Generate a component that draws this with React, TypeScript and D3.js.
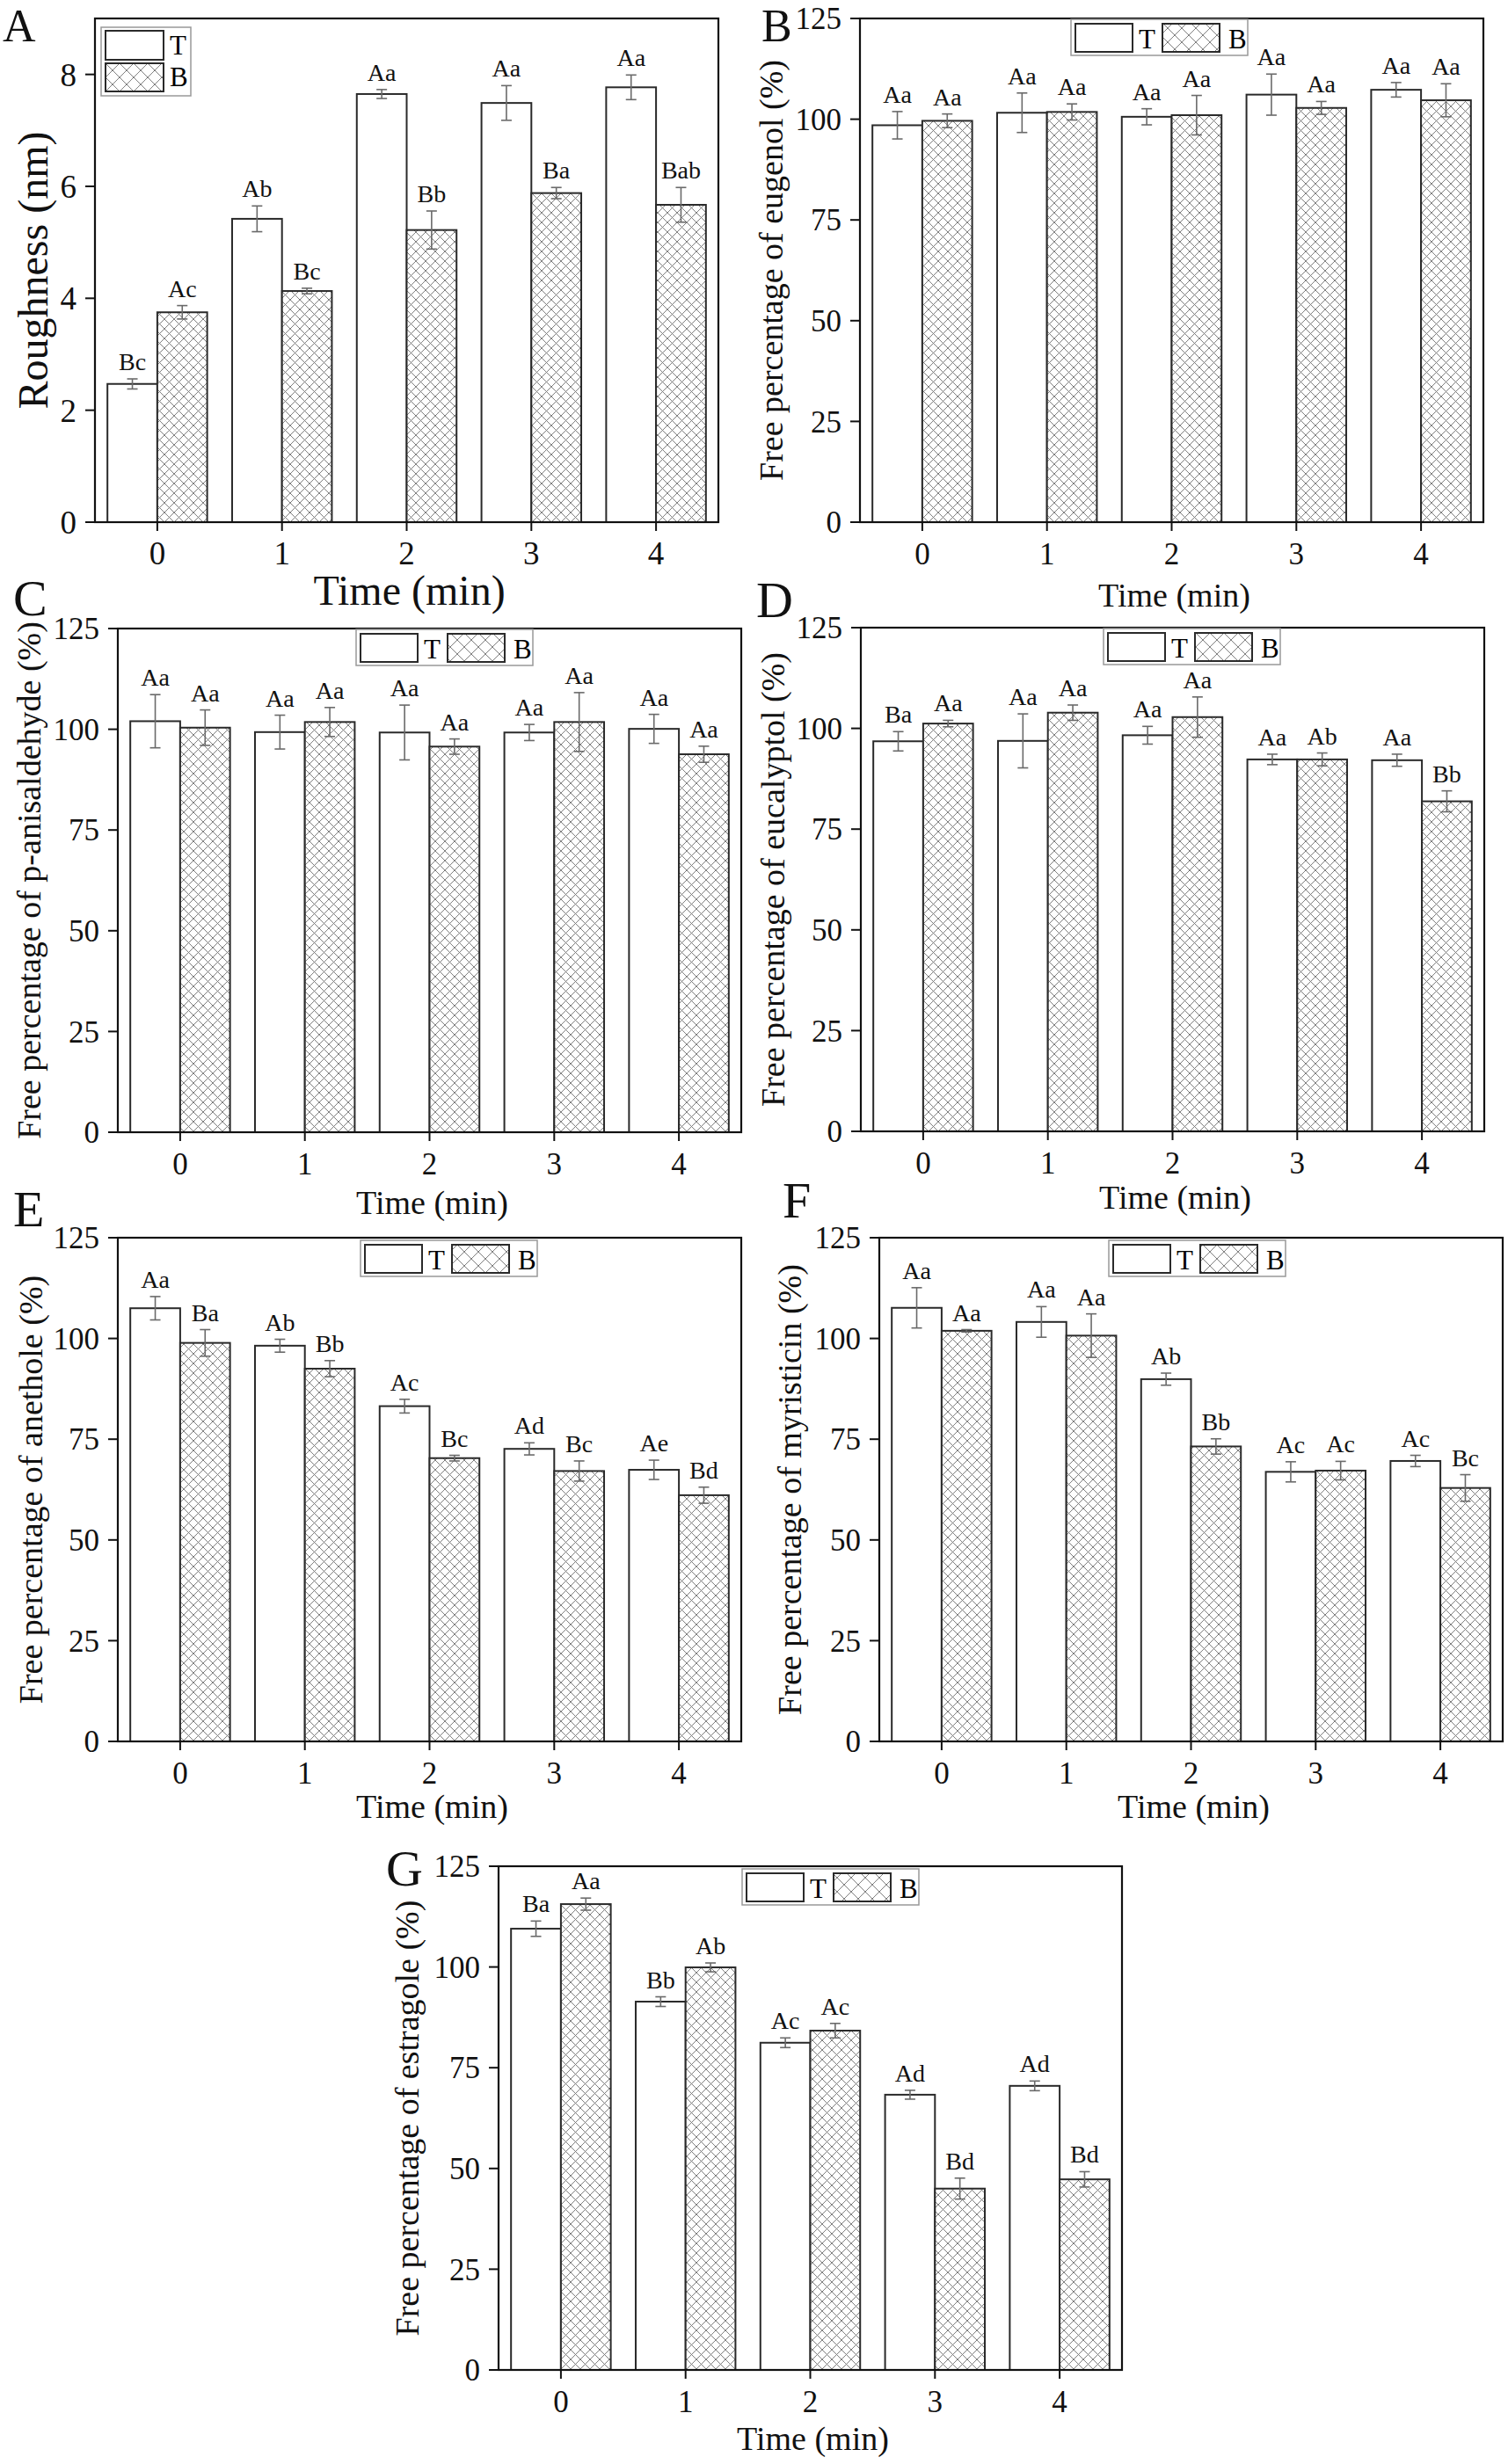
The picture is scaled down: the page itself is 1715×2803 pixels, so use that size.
import React from 'react';
import * as d3 from 'd3';

// ---------------- data ----------------
const times = [0, 1, 2, 3, 4];
const seriesNames = ['T', 'B'];

const roughT = [2.47, 5.42, 7.65, 7.49, 7.77];
const roughTErr = [0.09, 0.23, 0.08, 0.31, 0.22];
const roughB = [3.75, 4.13, 5.22, 5.88, 5.67];
const roughBErr = [0.12, 0.05, 0.34, 0.1, 0.31];
const roughTLab = ['Bc', 'Ab', 'Aa', 'Aa', 'Aa'];
const roughBLab = ['Ac', 'Bc', 'Bb', 'Ba', 'Bab'];

const eugT = [98.5, 101.6, 100.6, 106.1, 107.3];
const eugTErr = [3.4, 4.9, 2.0, 5.1, 1.8];
const eugB = [99.6, 101.8, 101.0, 102.8, 104.7];
const eugBErr = [1.7, 2.0, 4.9, 1.6, 4.1];
const eugTLab = ['Aa', 'Aa', 'Aa', 'Aa', 'Aa'];
const eugBLab = ['Aa', 'Aa', 'Aa', 'Aa', 'Aa'];

const anisT = [102.0, 99.3, 99.2, 99.2, 100.1];
const anisTErr = [6.6, 4.2, 6.8, 2.0, 3.6];
const anisB = [100.4, 101.8, 95.7, 101.8, 93.8];
const anisBErr = [4.4, 3.6, 1.9, 7.3, 2.0];
const anisTLab = ['Aa', 'Aa', 'Aa', 'Aa', 'Aa'];
const anisBLab = ['Aa', 'Aa', 'Aa', 'Aa', 'Aa'];

const eucT = [96.8, 96.9, 98.3, 92.3, 92.1];
const eucTErr = [2.4, 6.7, 2.2, 1.3, 1.5];
const eucB = [101.2, 103.9, 102.8, 92.3, 81.9];
const eucBErr = [0.8, 1.9, 5.0, 1.6, 2.6];
const eucTLab = ['Ba', 'Aa', 'Aa', 'Aa', 'Aa'];
const eucBLab = ['Aa', 'Aa', 'Aa', 'Ab', 'Bb'];

const aneT = [107.5, 98.2, 83.2, 72.6, 67.4];
const aneTErr = [2.9, 1.6, 1.7, 1.5, 2.4];
const aneB = [98.9, 92.5, 70.3, 67.1, 61.1];
const aneBErr = [3.3, 2.0, 0.7, 2.5, 2.0];
const aneTLab = ['Aa', 'Ab', 'Ac', 'Ad', 'Ae'];
const aneBLab = ['Ba', 'Bb', 'Bc', 'Bc', 'Bd'];

const myrT = [107.6, 104.1, 89.9, 66.9, 69.6];
const myrTErr = [5.0, 3.8, 1.5, 2.5, 1.4];
const myrB = [101.9, 100.7, 73.2, 67.2, 62.9];
const myrBErr = [0.3, 5.4, 1.9, 2.3, 3.3];
const myrTLab = ['Aa', 'Aa', 'Ab', 'Ac', 'Ac'];
const myrBLab = ['Aa', 'Aa', 'Bb', 'Ac', 'Bc'];

const estT = [109.5, 91.4, 81.2, 68.3, 70.5];
const estTErr = [1.9, 1.2, 1.2, 1.1, 1.2];
const estB = [115.6, 99.9, 84.2, 45.0, 47.3];
const estBErr = [1.5, 1.1, 1.8, 2.6, 1.9];
const estTLab = ['Ba', 'Bb', 'Ac', 'Ad', 'Ad'];
const estBLab = ['Aa', 'Ab', 'Ac', 'Bd', 'Bd'];

const roughTicks = [0, 2, 4, 6, 8];
const pctTicks = [0, 25, 50, 75, 100, 125];

// ---------------- layout ----------------
const FONT = '"Liberation Serif", "Times New Roman", Times, serif';
const W = 709;
const H = 573;

type PanelDef = {
  letter: string; lx: number; ly: number; lf: number;
  left: number; top: number; ymax: number; ticks: number[]; tf: number;
  ylabel: string; ylFont: number; ylOff: number; ylShift: number;
  xlFont: number; xlOff: number;
  legend: 'v' | 'h'; legX: number; legY: number;
  T: number[]; TE: number[]; B: number[]; BE: number[]; TL: string[]; BL: string[];
};

const panels: PanelDef[] = [
  { letter: 'A', lx: 3, ly: 47, lf: 52, left: 108, top: 21, ymax: 9, ticks: roughTicks, tf: 37,
    ylabel: 'Roughness (nm)', ylFont: 48, ylOff: 54, ylShift: 0, xlFont: 48, xlOff: 94,
    legend: 'v', legX: 7, legY: 10,
    T: roughT, TE: roughTErr, B: roughB, BE: roughBErr, TL: roughTLab, BL: roughBLab },
  { letter: 'B', lx: 866, ly: 47, lf: 52, left: 978, top: 21, ymax: 125, ticks: pctTicks, tf: 35,
    ylabel: 'Free percentage of eugenol (%)', ylFont: 38, ylOff: 88, ylShift: 0, xlFont: 38, xlOff: 96,
    legend: 'h', legX: 240, legY: 1,
    T: eugT, TE: eugTErr, B: eugB, BE: eugBErr, TL: eugTLab, BL: eugBLab },
  { letter: 'C', lx: 15, ly: 700, lf: 58, left: 134, top: 715, ymax: 125, ticks: pctTicks, tf: 35,
    ylabel: 'Free percentage of p-anisaldehyde (%)', ylFont: 38, ylOff: 88, ylShift: 0, xlFont: 38, xlOff: 93,
    legend: 'h', legX: 271, legY: 1,
    T: anisT, TE: anisTErr, B: anisB, BE: anisBErr, TL: anisTLab, BL: anisBLab },
  { letter: 'D', lx: 860, ly: 702, lf: 58, left: 979, top: 714, ymax: 125, ticks: pctTicks, tf: 35,
    ylabel: 'Free percentage of eucalyptol (%)', ylFont: 38, ylOff: 87, ylShift: 0, xlFont: 38, xlOff: 88,
    legend: 'h', legX: 276, legY: 1,
    T: eucT, TE: eucTErr, B: eucB, BE: eucBErr, TL: eucTLab, BL: eucBLab },
  { letter: 'E', lx: 15, ly: 1395, lf: 58, left: 134, top: 1408, ymax: 125, ticks: pctTicks, tf: 35,
    ylabel: 'Free percentage of anethole (%)', ylFont: 38, ylOff: 86, ylShift: 0, xlFont: 38, xlOff: 87,
    legend: 'h', legX: 276, legY: 3,
    T: aneT, TE: aneTErr, B: aneB, BE: aneBErr, TL: aneTLab, BL: aneBLab },
  { letter: 'F', lx: 890, ly: 1385, lf: 58, left: 1000, top: 1408, ymax: 125, ticks: pctTicks, tf: 35,
    ylabel: 'Free percentage of myristicin (%)', ylFont: 38, ylOff: 89, ylShift: 0, xlFont: 38, xlOff: 87,
    legend: 'h', legX: 261, legY: 3,
    T: myrT, TE: myrTErr, B: myrB, BE: myrBErr, TL: myrTLab, BL: myrBLab },
  { letter: 'G', lx: 439, ly: 2145, lf: 58, left: 567, top: 2123, ymax: 125, ticks: pctTicks, tf: 35,
    ylabel: 'Free percentage of estragole (%)', ylFont: 38, ylOff: 91, ylShift: 0, xlFont: 38, xlOff: 91,
    legend: 'h', legX: 277, legY: 3,
    T: estT, TE: estTErr, B: estB, BE: estBErr, TL: estTLab, BL: estBLab },
];

const BAR_W = 0.4;
const EDGE = '#2a2a2a';
const ERR = '#6a6a6a';

function Legend({ p }: { p: PanelDef }) {
  const x0 = p.left + p.legX;
  const y0 = p.top + p.legY;
  if (p.legend === 'v') {
    return (
      <g>
        <rect x={x0} y={y0} width={102} height={78} fill="#fff" stroke="#999" strokeWidth={1.5} />
        <rect x={x0 + 5} y={y0 + 4} width={66} height={33} fill="#fff" stroke={EDGE} strokeWidth={2} />
        <rect x={x0 + 5} y={y0 + 41} width={66} height={32} fill="url(#hatchL)" stroke={EDGE} strokeWidth={2} />
        <text x={x0 + 78} y={y0 + 31} fontSize={31} fontFamily={FONT}>{seriesNames[0]}</text>
        <text x={x0 + 78} y={y0 + 67} fontSize={31} fontFamily={FONT}>{seriesNames[1]}</text>
      </g>
    );
  }
  return (
    <g>
      <rect x={x0} y={y0} width={201} height={41} fill="#fff" stroke="#999" strokeWidth={1.5} />
      <rect x={x0 + 5} y={y0 + 5} width={65} height={32} fill="#fff" stroke={EDGE} strokeWidth={2} />
      <text x={x0 + 77} y={y0 + 33} fontSize={31} fontFamily={FONT}>{seriesNames[0]}</text>
      <rect x={x0 + 104} y={y0 + 5} width={65} height={32} fill="url(#hatchL)" stroke={EDGE} strokeWidth={2} />
      <text x={x0 + 179} y={y0 + 33} fontSize={31} fontFamily={FONT}>{seriesNames[1]}</text>
    </g>
  );
}

function Panel({ p }: { p: PanelDef }) {
  const x = d3.scaleLinear().domain([-0.5, 4.5]).range([p.left, p.left + W]);
  const y = d3.scaleLinear().domain([0, p.ymax]).range([p.top + H, p.top]);
  const y0 = y(0);
  const series = [
    { vals: p.T, errs: p.TE, labs: p.TL, off: -BAR_W, fill: '#fff' },
    { vals: p.B, errs: p.BE, labs: p.BL, off: 0, fill: 'url(#hatch)' },
  ];
  const bw = x(BAR_W) - x(0);
  return (
    <g>
      {series.map((s, si) =>
        times.map((t, i) => {
          const bx = x(t + s.off);
          const by = y(s.vals[i]);
          return (
            <rect key={`b${si}-${i}`} x={bx} y={by} width={bw} height={y0 - by}
              fill={s.fill} stroke={EDGE} strokeWidth={2} />
          );
        })
      )}
      {series.map((s, si) =>
        times.map((t, i) => {
          const cx = x(t + s.off + BAR_W / 2);
          const hi = y(s.vals[i] + s.errs[i]);
          const lo = y(s.vals[i] - s.errs[i]);
          return (
            <g key={`e${si}-${i}`} stroke={ERR} strokeWidth={1.6}>
              <line x1={cx} x2={cx} y1={hi} y2={lo} />
              <line x1={cx - 6} x2={cx + 6} y1={hi} y2={hi} />
              <line x1={cx - 6} x2={cx + 6} y1={lo} y2={lo} />
            </g>
          );
        })
      )}
      {series.map((s, si) =>
        times.map((t, i) => {
          const cx = x(t + s.off + BAR_W / 2);
          const hi = y(s.vals[i] + s.errs[i]);
          return (
            <text key={`l${si}-${i}`} x={cx} y={hi - 10} textAnchor="middle"
              fontSize={28} fontFamily={FONT} fill="#111">{s.labs[i]}</text>
          );
        })
      )}
      <rect x={p.left} y={p.top} width={W} height={H} fill="none" stroke="#111" strokeWidth={2.2} />
      {p.ticks.map((v) => (
        <g key={`yt${v}`}>
          <line x1={p.left - 11} x2={p.left} y1={y(v)} y2={y(v)} stroke="#111" strokeWidth={2} />
          <text x={p.left - 21} y={y(v)} dy="0.35em" textAnchor="end" fontSize={p.tf} fontFamily={FONT} fill="#111">{v}</text>
        </g>
      ))}
      {times.map((t) => (
        <g key={`xt${t}`}>
          <line x1={x(t)} x2={x(t)} y1={y0} y2={y0 + 10} stroke="#111" strokeWidth={2} />
          <text x={x(t)} y={y0 + 48} textAnchor="middle" fontSize={p.tf} fontFamily={FONT} fill="#111">{t}</text>
        </g>
      ))}
      <text x={p.left + W / 2 + 3} y={y0 + p.xlOff} textAnchor="middle" fontSize={p.xlFont} fontFamily={FONT} fill="#111">Time (min)</text>
      <text transform={`translate(${p.left - p.ylOff},${p.top + H / 2 + p.ylShift}) rotate(-90)`}
        textAnchor="middle" fontSize={p.ylFont} fontFamily={FONT} fill="#111">{p.ylabel}</text>
      <Legend p={p} />
      <text x={p.lx} y={p.ly} fontSize={p.lf} fontFamily={FONT} fill="#111">{p.letter}</text>
    </g>
  );
}

export default function App() {
  return (
    <svg width={1715} height={2803} viewBox="0 0 1715 2803"
      style={{ position: 'absolute', left: 0, top: 0, display: 'block', background: '#fff' }}>
      <defs>
        <pattern id="hatch" patternUnits="userSpaceOnUse" width={11} height={11}>
          <rect width={11} height={11} fill="#fff" />
          <path d="M-1,-1 L12,12 M12,-1 L-1,12" stroke="#707070" strokeWidth={0.9} />
        </pattern>
        <pattern id="hatchL" patternUnits="userSpaceOnUse" width={16} height={16}>
          <rect width={16} height={16} fill="#fff" />
          <path d="M-1,-1 L17,17 M17,-1 L-1,17" stroke="#707070" strokeWidth={0.9} />
        </pattern>
      </defs>
      <rect x={0} y={0} width={1715} height={2803} fill="#fff" />
      {panels.map((p) => <Panel key={p.letter} p={p} />)}
    </svg>
  );
}
